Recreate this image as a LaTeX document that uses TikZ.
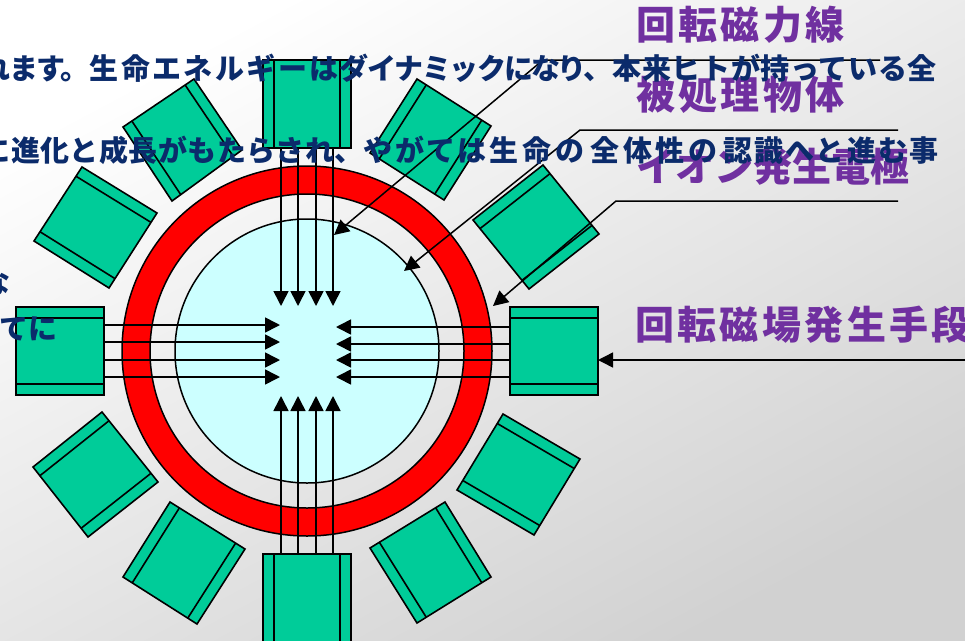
\documentclass[tikz,border=0pt]{standalone}
\usepackage{fontspec}
\setmainfont{Noto Sans CJK JP}
\usetikzlibrary{arrows.meta,calc}
\definecolor{navytext}{HTML}{0B2B6B}
\definecolor{purpletext}{HTML}{7030A0}
\definecolor{statorgreen}{HTML}{00CC99}
\definecolor{coreblue}{HTML}{CCFFFF}
\tikzset{
  x=1pt,y=-1pt,
  statorbox/.style={draw=black,fill=statorgreen,line width=1.6pt,line join=miter},
  statorline/.style={draw=black,line width=1.6pt},
  ringline/.style={draw=black,line width=1.5pt},
  fieldline/.style={draw=black,line width=1.6pt,-{Triangle[length=15pt,width=15pt]}},
  callout/.style={draw=black,line width=1.5pt,-{Triangle[length=15pt,width=15pt]}},
  bodytext/.style={anchor=west,inner sep=0pt,text=navytext,font=\fontsize{29}{31}\selectfont\bfseries},
  labeltext/.style={anchor=west,inner sep=0pt,text=purpletext,font=\fontsize{39}{41}\selectfont\bfseries},
}
\newcommand{\statorblock}[4]{%
  \draw[statorbox] (#1) -- (#2) -- (#3) -- (#4) -- cycle;
  \draw[statorline] ($(#1)!0.125!(#2)$) -- ($(#4)!0.125!(#3)$);
  \draw[statorline] ($(#1)!0.875!(#2)$) -- ($(#4)!0.875!(#3)$);
}
\newcommand{\spaced}[2]{{\addfontfeature{LetterSpace=#1}#2}}
\begin{document}
\begin{tikzpicture}
\useasboundingbox (0,0) rectangle (965,640);
\clip (0,0) rectangle (965,640);
% background
\shade[shading=axis,top color=white,middle color=black!5,bottom color=black!18,shading angle=28] (0,0) rectangle (965,640);
% ring and core
\coordinate (c) at (307,351);
\fill[red,even odd rule] (c) circle[radius=185] (c) circle[radius=157];
\draw[ringline] (c) circle[radius=185];
\draw[ringline] (c) circle[radius=157];
\draw[ringline,fill=coreblue] (c) circle[radius=132];
% stator blocks
\statorblock{263,60}{351,60}{351,148}{263,148}
\statorblock{123,127}{194,79}{242,150}{172,201}
\statorblock{82,167}{34,241}{109,288}{157,213}
\statorblock{16,307}{16,395}{104,395}{104,307}
\statorblock{33,467}{88,537}{158,482}{102,412}
\statorblock{170,502}{245,549}{197,624}{123,577}
\statorblock{263,554}{351,554}{351,642}{263,642}
\statorblock{370,548}{445,502}{491,577}{417,623}
\statorblock{503,414}{457,490}{534,535}{580,459}
\statorblock{510,307}{510,395}{598,395}{598,307}
\statorblock{543,165}{599,234}{529,289}{473,220}
\statorblock{417,79}{491,126}{444,200}{370,153}
% field lines
\foreach \px in {281,298,316,333}{
  \coordinate (ts) at (\px,148); \coordinate (te) at (\px,306);
  \draw[fieldline] (ts) -- (te);
  \coordinate (bs) at (\px,554); \coordinate (be) at (\px,396);
  \draw[fieldline] (bs) -- (be);
}
\foreach \py in {325,342,360,377}{
  \coordinate (ls) at (104,\py); \coordinate (le) at (280,\py);
  \draw[fieldline] (ls) -- (le);
}
\foreach \py in {327,344,360,377}{
  \coordinate (rs) at (510,\py); \coordinate (re) at (336,\py);
  \draw[fieldline] (rs) -- (re);
}
% callouts
\coordinate (a1) at (880,60); \coordinate (a2) at (543,60); \coordinate (a3) at (334,235);
\draw[callout] (a1) -- (a2) -- (a3);
\coordinate (b1) at (898,130); \coordinate (b2) at (580,130); \coordinate (b3) at (404,271);
\draw[callout] (b1) -- (b2) -- (b3);
\coordinate (d1) at (898,201); \coordinate (d2) at (616,201); \coordinate (d3) at (493,306);
\draw[callout] (d1) -- (d2) -- (d3);
\coordinate (e1) at (966,360); \coordinate (e2) at (598,360);
\draw[callout] (e1) -- (e2);
% labels
\node[labeltext] (l1) at (636,25) {\spaced{8.5}{回転磁力線}};
\node[labeltext] (l2) at (636,95) {\spaced{8.5}{被処理物体}};
\node[labeltext] (l3) at (636,167) {\spaced{0.3}{イオン発生電極}};
\node[labeltext] (l4) at (635,325) {\spaced{8.7}{回転磁場発生手段}};
% body text
\node[bodytext] (t1) at (-18.5,68) {\spaced{-5.9}{れます。}\spaced{8.3}{生命エネルギーは}\hspace{1pt}\spaced{-4.5}{ダイナミック}\hspace{-2pt}\spaced{-7.8}{になり、}\spaced{2.3}{本来ヒトが持っている全}};
\node[bodytext] (t2) at (-18.4,150) {\spaced{1.4}{に進化と成長がもたらされ、}\spaced{7.8}{やがては}\hspace{3pt}\spaced{15}{生命の}\hspace{6pt}\spaced{12}{全体性の}\hspace{6pt}\spaced{8}{認識へと進む事}};
\node[bodytext] (t3) at (-19,283) {な};
\node[bodytext] (t4) at (-1,329) {てに};
\end{tikzpicture}
\end{document}
